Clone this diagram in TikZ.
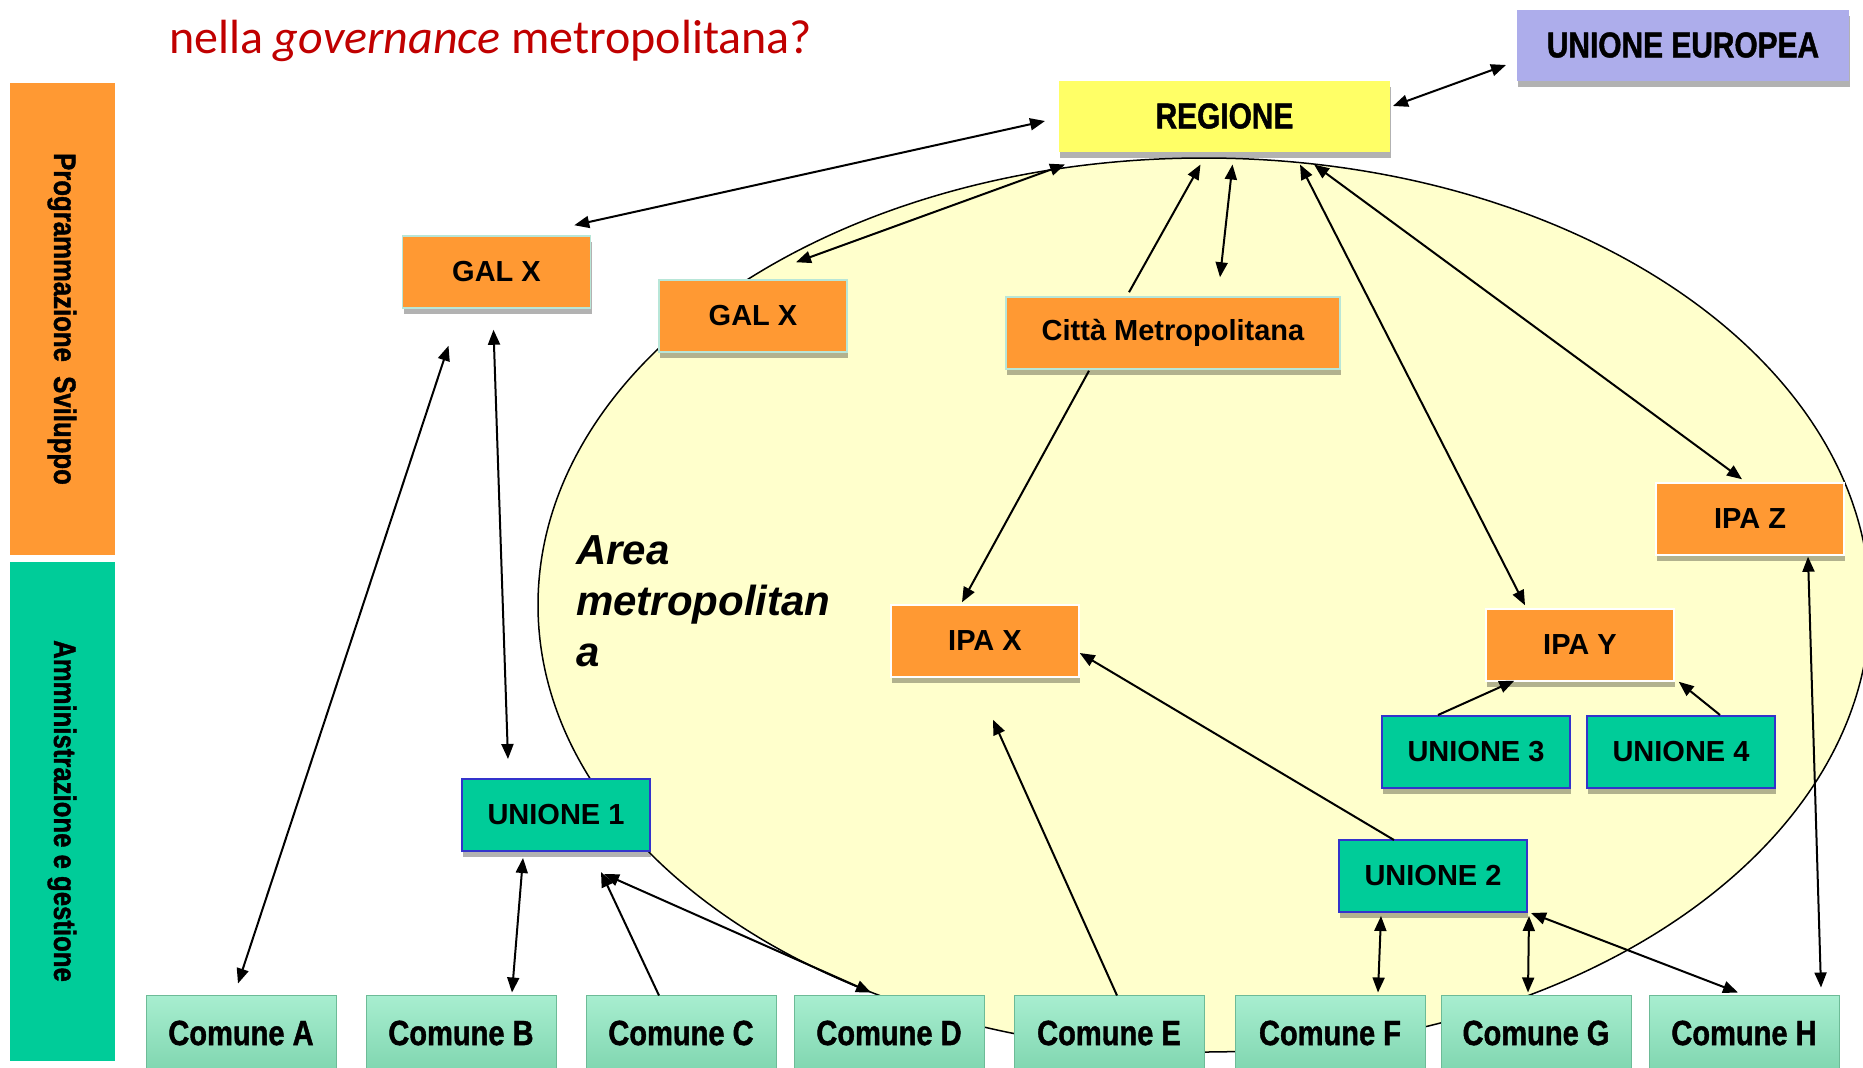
\documentclass[tikz,border=0pt]{standalone}
\usepackage{fontspec}
\setmainfont{Liberation Sans}
\newfontfamily\narrowsf[FakeStretch=0.83, BoldFeatures={FakeBold=1.2}]{Liberation Sans}
\newfontfamily\titlesf{Carlito}
\usetikzlibrary{arrows.meta,calc,shadows}

\definecolor{arancio}{HTML}{FF9933}
\definecolor{verde}{HTML}{00CC99}
\definecolor{giallo}{HTML}{FFFF66}
\definecolor{lilla}{HTML}{ADADEB}
\definecolor{areafill}{HTML}{FFFFCC}
\definecolor{titolo}{HTML}{C00000}
\definecolor{bordoblu}{HTML}{3333CC}
\definecolor{bordochiaro}{HTML}{B8E6D8}
\definecolor{comtop}{HTML}{A8EED0}
\definecolor{combot}{HTML}{80D6B0}
\definecolor{combordo}{HTML}{6DBB97}

\begin{document}
\begin{tikzpicture}[x=1pt, y=-1pt, line width=2pt,
  freccia/.style={-{Triangle[length=15pt,width=12pt]}},
  doppia/.style={{Triangle[length=15pt,width=12pt]}-{Triangle[length=15pt,width=12pt]}},
  ombra/.style={drop shadow={shadow xshift=1pt, shadow yshift=-6pt, fill=black, opacity=0.3}},
  prog/.style={ombra, fill=arancio, draw=bordochiaro, line width=1.5pt, minimum width=188pt, minimum height=72pt, inner sep=0pt, font=\bfseries\fontsize{29}{34}\selectfont},
  unione/.style={ombra, fill=verde, draw=bordoblu, line width=2pt, minimum width=188pt, minimum height=72pt, inner sep=0pt, font=\bfseries\fontsize{29}{34}\selectfont},
  comune/.style={top color=comtop, bottom color=combot, draw=combordo, line width=1pt, minimum width=190pt, minimum height=76pt, inner sep=0pt, font=\narrowsf\bfseries\fontsize{35}{40}\selectfont},
  vertice/.style={ombra, minimum width=331pt, minimum height=71pt, inner sep=0pt, font=\narrowsf\bfseries\fontsize{36}{42}\selectfont},
  fascia/.style={rotate=-90, minimum height=105pt, inner sep=0pt, font=\narrowsf\bfseries\fontsize{31}{36}\selectfont}]

  % area metropolitana (sotto a tutto)
  \draw[fill=areafill, line width=1.5pt] (1204,605) ellipse [x radius=666, y radius=447];
  \node[anchor=north west, align=left, inner sep=0pt, font=\bfseries\itshape\fontsize{42}{51}\selectfont] (area) at (575,535) {Area\\metropolitan\\a};

  % titolo (la prima riga e' tagliata fuori dal bordo)
  \node[anchor=base west, inner sep=0pt, text=titolo, font=\titlesf\fontsize{48}{57}\selectfont] (domanda) at (168,53) {nella \textit{governance} metropolitana?};

  % fasce a sinistra
  \node[fascia, fill=arancio, minimum width=472pt] (sviluppo) at (62,319) {Programmazione~ Sviluppo};
  \node[fascia, fill=verde, minimum width=499pt] (gestione) at (62,811) {Amministrazione e gestione};

  % livello alto
  \node[vertice, fill=lilla, minimum width=332pt] (ue) at (1683,45) {UNIONE EUROPEA};
  \node[vertice, fill=giallo] (regione) at (1224.5,116) {REGIONE};

  % programmazione
  \node[prog] (galA) at (496.5,272) {GAL X};
  \node[prog] (galB) at (753,316) {GAL X};
  \node[prog, minimum width=334pt] (citta) at (1173,333) {Città Metropolitana};
  \node[prog, draw=white] (ipaz) at (1750,519) {IPA Z};
  \node[prog, draw=white] (ipax) at (985,641) {IPA X};
  \node[prog, draw=white] (ipay) at (1580,645) {IPA Y};

  % unioni
  \node[unione] (un3) at (1476,752) {UNIONE 3};
  \node[unione] (un4) at (1681,752) {UNIONE 4};
  \node[unione] (un1) at (556,815) {UNIONE 1};
  \node[unione] (un2) at (1433,876) {UNIONE 2};

  % comuni
  \node[comune] (comA) at (241,1033) {Comune A};
  \node[comune] (comB) at (461,1033) {Comune B};
  \node[comune] (comC) at (681,1033) {Comune C};
  \node[comune] (comD) at (889,1033) {Comune D};
  \node[comune] (comE) at (1109,1033) {Comune E};
  \node[comune] (comF) at (1330,1033) {Comune F};
  \node[comune] (comG) at (1536,1033) {Comune G};
  \node[comune] (comH) at (1744,1033) {Comune H};

  % frecce dalla regione
  \draw[doppia] ($(regione.east)+(2,-10)$) -- ($(ue.west)+(-10,20)$);
  \draw[doppia] ($(regione.west)+(-13,5)$) -- ($(galA.north east)+(-17,-10)$);
  \draw[doppia] ($(regione.south west)+(7,12)$) -- ($(galB.north)+(43,-17)$);
  \draw[freccia] ($(citta.north)+(-44,-4)$) -- ($(regione.south)+(-24,12)$);
  \draw[doppia] ($(regione.south)+(8,12)$) -- ($(citta.north)+(47,-19)$);
  \draw[doppia] ($(regione.south east)+(-91,12)$) -- ($(ipay.north)+(-55,-3)$);
  \draw[doppia] ($(regione.south east)+(-77,12)$) -- ($(ipaz.north)+(-8,-3)$);
  \draw[freccia] ($(citta.south)+(-84,1)$) -- ($(ipax.north)+(-23,-2)$);

  % frecce verso i comuni
  \draw[doppia] ($(galA.south)+(-48,37)$) -- ($(comA.north)+(-3,-11)$);
  \draw[doppia] ($(galA.south)+(-3,21)$) -- ($(un1.north)+(-48,-19)$);
  \draw[doppia] ($(un1.south)+(-33,6)$) -- ($(comB.north)+(51,-2)$);
  \draw[freccia] ($(comC.north)+(-22,1)$) -- ($(un1.south east)+(-50,20)$);
  \draw[doppia] ($(un1.south east)+(-47,22)$) -- ($(comD.north)+(-18,-2)$);
  \draw[freccia] ($(comE.north)+(8,1)$) -- ($(ipax.south)+(8,42)$);
  \draw[freccia] ($(un2.north)+(-39,1)$) -- ($(ipax.east)+(0,12)$);
  \draw[doppia] ($(un2.south)+(-52,3)$) -- ($(comF.north)+(48,-2)$);
  \draw[doppia] ($(un2.south east)+(1,3)$) -- ($(comG.north)+(-8,-2)$);
  \draw[doppia] ($(un2.south east)+(3,0)$) -- ($(comH.north)+(-6,-2)$);
  \draw[doppia] ($(ipaz.south)+(58,1)$) -- ($(comH.north)+(77,-7)$);
  \draw[freccia] ($(un3.north)+(-38,0)$) -- ($(ipay.south west)+(29,-1)$);
  \draw[freccia] ($(un4.north)+(39,0)$) -- ($(ipay.south east)+(4,0)$);

  \pgfresetboundingbox
  \path[use as bounding box] (0,0) rectangle (1863,1068);
\end{tikzpicture}
\end{document}
